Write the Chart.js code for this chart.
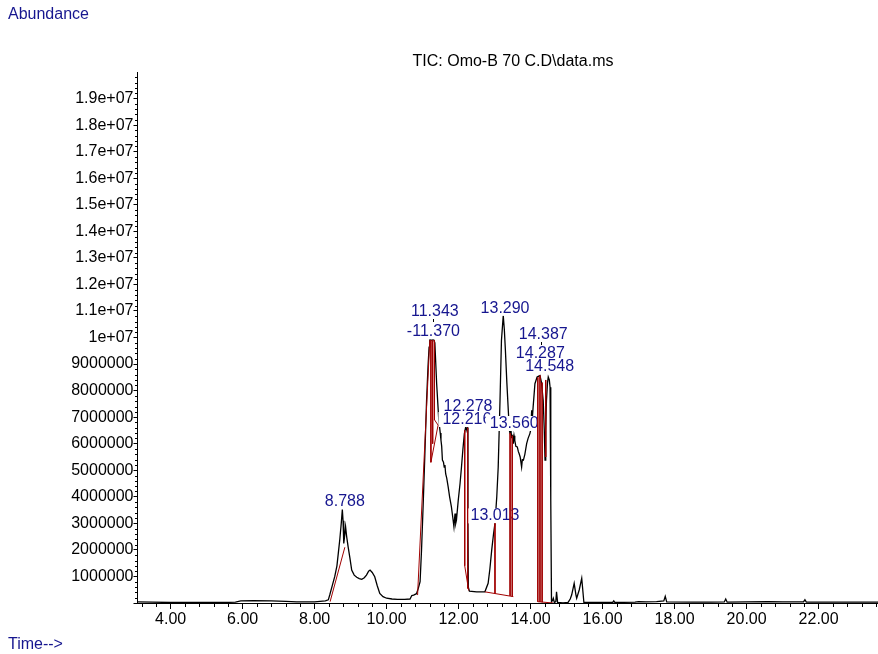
<!DOCTYPE html>
<html>
<head>
<meta charset="utf-8">
<script src="https://cdn.jsdelivr.net/npm/chart.js@4.4.1/dist/chart.umd.min.js"></script>
<style>
html,body{margin:0;padding:0;background:#fff;}
#wrap{position:relative;width:878px;height:654px;}
canvas{display:block;}
</style>
</head>
<body>
<div id="wrap"><canvas id="c" width="878" height="654"></canvas></div>
<script>
// ---- data (retention time in minutes, abundance in counts) ----
const ticTime = [3.08,3.5,4.0,4.5,5.0,5.5,5.8,5.95,6.3,6.8,7.2,7.5,8.0,8.3,8.38,8.42,8.5,8.56,8.62,8.66,8.70,8.74,8.77,8.79,8.81,8.84,8.86,8.89,8.93,8.98,9.03,9.10,9.17,9.24,9.31,9.38,9.44,9.50,9.54,9.60,9.67,9.74,9.81,9.90,10.0,10.15,10.3,10.5,10.65,10.70,10.75,10.83,10.88,10.93,10.97,11.02,11.06,11.11,11.15,11.18,11.20,11.25,11.30,11.34,11.39,11.45,11.49,11.51,11.53,11.55,11.58,11.60,11.62,11.64,11.67,11.71,11.75,11.80,11.84,11.87,11.90,11.92,11.94,11.99,12.04,12.08,12.12,12.16,12.20,12.23,12.25,12.26,12.27,12.30,12.5,12.73,12.82,12.87,12.92,12.97,13.01,13.06,13.10,13.15,13.19,13.24,13.27,13.30,13.34,13.38,13.41,13.43,13.45,13.47,13.50,13.52,13.54,13.56,13.59,13.63,13.66,13.68,13.71,13.75,13.77,13.80,13.84,13.89,13.93,13.98,14.0,14.03,14.05,14.07,14.12,14.18,14.26,14.30,14.35,14.38,14.40,14.42,14.44,14.47,14.49,14.52,14.54,14.56,14.58,14.61,14.63,14.66,14.70,14.72,14.75,14.9,15.04,15.10,15.14,15.21,15.26,15.28,15.35,15.42,15.48,15.7,16.28,16.31,16.34,16.9,17.0,17.2,17.5,17.70,17.74,17.78,18.5,19.0,19.38,19.42,19.46,20.0,20.6,21.0,21.58,21.62,21.66,22.5,23.65];
const ticAbundance = [40000,30000,20000,20000,20000,20000,30000,80000,90000,80000,60000,40000,40000,80000,120000,300000,700000,1000000,1400000,1900000,2400000,3000000,3520000,3100000,2240000,2600000,2870000,2500000,2120000,1700000,1240000,1050000,970000,920000,890000,950000,1050000,1200000,1240000,1150000,990000,650000,360000,240000,180000,150000,140000,140000,150000,280000,300000,350000,550000,800000,2000000,3870000,5500000,7630000,8900000,9640000,9950000,9900000,9950000,9800000,8260000,6880000,6400000,6130000,5900000,5380000,5300000,5120000,5200000,4870000,4700000,4370000,4000000,3620000,3200000,2870000,3370000,3000000,3120000,3870000,4500000,5120000,5800000,6380000,6650000,6500000,6600000,3000000,600000,450000,420000,420000,740000,1300000,2000000,2600000,3000000,4000000,5120000,7630000,9890000,10830000,10300000,9510000,8300000,7260000,6500000,6380000,6600000,6250000,6300000,6000000,6300000,6130000,5900000,5880000,5700000,5630000,5500000,5120000,5400000,5380000,5600000,6000000,6200000,6380000,6500000,7260000,7000000,7380000,8260000,8510000,8570000,8320000,7630000,6500000,5380000,6500000,7630000,8300000,8510000,8400000,8130000,3870000,50000,100000,180000,20000,50000,420000,20000,0,20000,150000,300000,740000,300000,180000,490000,930000,20000,20000,20000,80000,20000,30000,50000,40000,50000,80000,250000,40000,30000,30000,40000,150000,30000,40000,50000,40000,40000,120000,30000,30000,30000];

// integration marks (null separates individual segments)
const intTime = [8.43,8.84,null, 10.86,11.20,null, 11.23,11.23,11.43,null, 11.28,11.28,null, 11.33,11.33,11.43,null, 12.17,12.17,12.28,null, 12.25,12.25,null, 12.73,13.52,null, 13.01,13.01,null, 13.43,13.43,null, 13.49,13.49,null, 14.20,14.20,14.63,null, 14.26,14.26,null, 14.32,14.32,null, 14.42,14.42];
const intAbundance = [50000,2100000,null, 300000,9900000,null, 9900000,5300000,6700000,null, 9900000,6000000,null, 9900000,6900000,6700000,null, 6500000,1400000,470000,null, 6600000,550000,null, 420000,240000,null, 3000000,350000,null, 6400000,270000,null, 6300000,250000,null, 8500000,50000,0,null, 8570000,40000,null, 8300000,30000,null, 8400000,5500000];

// peak annotations
const peakText = ["8.788","11.343","-11.370","13.290","14.387","14.287","14.548","12.278","12.216","13.560","13.013"];
const peakLabelTime = [8.84,11.34,11.30,13.29,14.35,14.27,14.53,12.26,12.23,13.545,13.01];
const peakLabelAbundance = [3850000,11000000,10230000,11120000,10140000,9430000,8920000,7400000,6930000,6780000,3300000];
const peakLeader = [false,true,false,false,true,false,false,false,false,false,false];

const xMajorTicks = [4,6,8,10,12,14,16,18,20,22];
const yMajorTicks = [0,1e6,2e6,3e6,4e6,5e6,6e6,7e6,8e6,9e6,1e7,1.1e7,1.2e7,1.3e7,1.4e7,1.5e7,1.6e7,1.7e7,1.8e7,1.9e7];

const titleText = "TIC: Omo-B 70 C.D\\data.ms";
const yTitle = "Abundance";
const xTitle = "Time-->";

// ---- build ----
const FONT = "'Liberation Sans', Arial, sans-serif";
const BLUE = "#16168f";
const RED = "#a00000";

const ticPoints = ticTime.map((t,i)=>({x:t,y:ticAbundance[i]}));
const intPoints = intTime.map((t,i)=>({x:t===null?NaN:t,y:intAbundance[i]}));

function yLabel(v){
  if (v === 0) return '';
  if (v < 1e7) return String(v);
  const m = v/1e7;
  return (Math.abs(m-Math.round(m))<1e-9 ? String(Math.round(m)) : m.toFixed(1)) + 'e+07';
}

const decor = {
  id:'decor',
  afterDatasetDraw(chart, args){
    if (args.index !== 0) return;
    const ctx = chart.ctx, xs = chart.scales.x, ys = chart.scales.y;
    ctx.save();
    ctx.font = "16px " + FONT;
    ctx.textAlign = 'center';
    ctx.textBaseline = 'middle';
    peakText.forEach((txt,i)=>{
      const px = xs.getPixelForValue(peakLabelTime[i]);
      const py = ys.getPixelForValue(peakLabelAbundance[i]);
      const w = ctx.measureText(txt).width;
      ctx.fillStyle = '#fff';
      ctx.fillRect(px - w/2 - 4, py - 7, w + 8, 15);
      ctx.fillStyle = BLUE;
      ctx.fillText(txt, px, py + 0.5);
      if (peakLeader[i]) {
        ctx.fillStyle = '#000';
        ctx.fillRect(Math.round(px) - 2, Math.round(py) + 8, 1, 3);
      }
    });
    ctx.restore();
  },
  afterDraw(chart){
    const ctx = chart.ctx, xs = chart.scales.x, ys = chart.scales.y, ca = chart.chartArea;
    ctx.save();
    ctx.strokeStyle = '#000';
    ctx.lineWidth = 1;
    ctx.beginPath();
    // minor y ticks
    for (let k = 1; k < 100; k++){
      if (k % 5 === 0) continue;
      const py = Math.round(ys.getPixelForValue(k*2e5)) + 0.5;
      ctx.moveTo(ca.left - 2.5, py); ctx.lineTo(ca.left, py);
    }
    // minor x ticks
    for (let k = 0; k < 60; k++){
      const v = 3.2 + 0.4*k;
      if (v > xs.max) break;
      if (Math.abs(v/2 - Math.round(v/2)) < 1e-6) continue;
      const px = Math.round(xs.getPixelForValue(v)) + 0.5;
      ctx.moveTo(px, ca.bottom); ctx.lineTo(px, ca.bottom + 4);
    }
    ctx.stroke();
    ctx.fillStyle = BLUE;
    ctx.font = "16px " + FONT;
    ctx.textBaseline = 'middle';
    ctx.textAlign = 'left';
    ctx.fillText(yTitle, 8, 15);
    ctx.fillText(xTitle, 8, 645);
    ctx.fillStyle = '#000';
    ctx.font = "16px " + FONT;
    ctx.textAlign = 'center';
    ctx.fillText(titleText, 513, 62);
    ctx.restore();
  }
};

new Chart(document.getElementById('c'), {
  type:'line',
  data:{datasets:[
    {data:ticPoints, borderColor:'#000', borderWidth:1.3, pointRadius:0, tension:0, order:2, fill:false},
    {data:intPoints, borderColor:RED, borderWidth:1, pointRadius:0, tension:0, order:1, spanGaps:false, fill:false}
  ]},
  options:{
    responsive:false, animation:false, events:[],
    layout:{padding:{top:72,left:0,right:0,bottom:0}},
    plugins:{legend:{display:false}, tooltip:{enabled:false}, title:{display:false}},
    scales:{
      x:{type:'linear', min:3.08, max:23.65,
        afterBuildTicks(a){a.ticks = xMajorTicks.map(v=>({value:v}));},
        afterFit(s){s.height = 51;},
        ticks:{autoSkip:false, maxRotation:0, padding:1, color:'#000', font:{family:FONT, size:16},
          callback:(v)=>Number(v).toFixed(2)},
        grid:{drawOnChartArea:false, tickLength:6, color:'#000', tickColor:'#000'},
        border:{color:'#000', width:1}
      },
      y:{type:'linear', min:0, max:2e7,
        afterBuildTicks(a){a.ticks = yMajorTicks.map(v=>({value:v}));},
        afterFit(s){s.width = 137.5;},
        ticks:{autoSkip:false, padding:0, color:'#000', font:{family:FONT, size:16}, callback:(v)=>yLabel(v)},
        grid:{drawOnChartArea:false, tickLength:4, color:'#000', tickColor:'#000'},
        border:{color:'#000', width:1}
      }
    }
  },
  plugins:[decor]
});
</script>
</body>
</html>
